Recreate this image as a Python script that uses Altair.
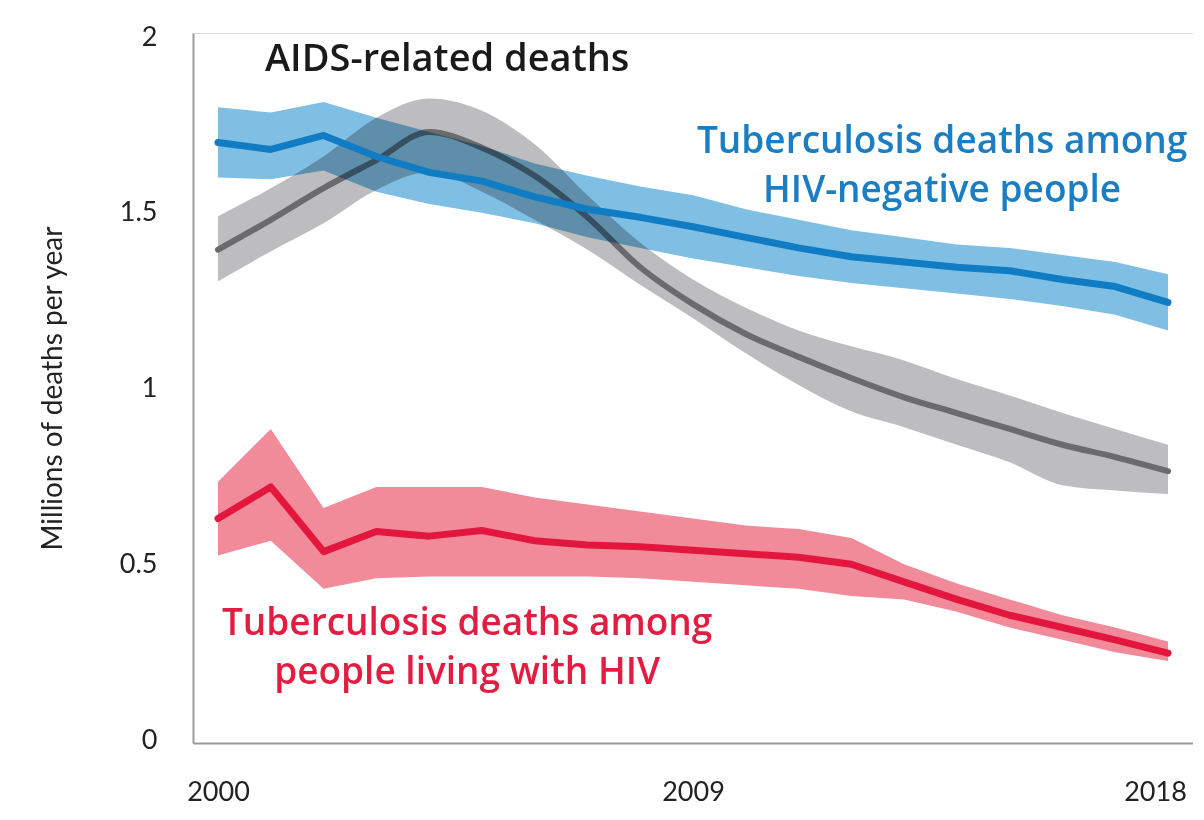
import altair as alt
import pandas as pd

years = list(range(2000, 2019))

aids_mid = [1.395, 1.48, 1.57, 1.65, 1.73, 1.685, 1.605, 1.487, 1.345, 1.24, 1.155, 1.09, 1.03, 0.975, 0.93, 0.885, 0.84, 0.805, 0.765]
aids_hi = [1.49, 1.57, 1.66, 1.77, 1.825, 1.79, 1.695, 1.55, 1.415, 1.31, 1.23, 1.165, 1.12, 1.08, 1.027, 0.98, 0.93, 0.885, 0.84]
aids_lo = [1.305, 1.39, 1.47, 1.565, 1.615, 1.56, 1.48, 1.395, 1.295, 1.20, 1.10, 1.01, 0.935, 0.89, 0.84, 0.79, 0.725, 0.71, 0.70]

tbneg_mid = [1.70, 1.68, 1.72, 1.66, 1.615, 1.59, 1.545, 1.51, 1.487, 1.46, 1.43, 1.40, 1.375, 1.36, 1.345, 1.335, 1.31, 1.29, 1.245]
tbneg_hi = [1.80, 1.785, 1.815, 1.77, 1.73, 1.69, 1.64, 1.605, 1.575, 1.55, 1.51, 1.48, 1.45, 1.43, 1.41, 1.40, 1.38, 1.36, 1.325]
tbneg_lo = [1.60, 1.595, 1.62, 1.56, 1.525, 1.50, 1.47, 1.43, 1.40, 1.37, 1.345, 1.32, 1.30, 1.285, 1.27, 1.255, 1.235, 1.21, 1.165]

tbhiv_mid = [0.63, 0.72, 0.536, 0.593, 0.58, 0.596, 0.567, 0.555, 0.55, 0.54, 0.53, 0.52, 0.50, 0.45, 0.40, 0.355, 0.32, 0.285, 0.247]
tbhiv_hi = [0.735, 0.885, 0.66, 0.72, 0.72, 0.72, 0.69, 0.67, 0.65, 0.63, 0.61, 0.60, 0.575, 0.50, 0.445, 0.40, 0.355, 0.32, 0.28]
tbhiv_lo = [0.525, 0.567, 0.43, 0.46, 0.465, 0.465, 0.465, 0.465, 0.46, 0.45, 0.44, 0.43, 0.41, 0.40, 0.365, 0.32, 0.285, 0.25, 0.225]

x_ticks = [2000, 2009, 2018]
y_ticks = [0, 0.5, 1, 1.5, 2]

ann_text = ["AIDS-related deaths",
            "Tuberculosis deaths among", "HIV-negative people",
            "Tuberculosis deaths among", "people living with HIV"]
ann_group = ["aids", "neg", "neg", "hiv", "hiv"]

df = pd.DataFrame({
    "year": years,
    "aids": aids_mid, "aids_hi": aids_hi, "aids_lo": aids_lo,
    "neg": tbneg_mid, "neg_hi": tbneg_hi, "neg_lo": tbneg_lo,
    "hiv": tbhiv_mid, "hiv_hi": tbhiv_hi, "hiv_lo": tbhiv_lo,
})

FONT = "Lato"
AFONT = "Open Sans"
XDOM = [1999.526, 2018.474]
YDOM = [-0.0085, 2.0114]

xscale = alt.Scale(domain=XDOM, nice=False, zero=False)
xenc = alt.X("year:Q", scale=xscale,
             axis=alt.Axis(values=x_ticks, format="d", title=None, ticks=False, grid=False,
                           domainColor="#9c9c9c", domainWidth=2, labelFontSize=27,
                           labelColor="#222222", labelFont=FONT, labelPadding=36,
                           labelFlush=False,
                           labelOffset={"condition": {"test": "datum.value == 2018", "value": -13},
                                        "value": 0}))
yaxis = alt.Axis(values=y_ticks, format="~g", title="Millions of deaths per year",
                 ticks=False, grid=False, domainColor="#9c9c9c", domainWidth=2,
                 labelFontSize=27, labelColor="#222222", labelFont=FONT, labelPadding=36,
                 titleFontSize=28, titleFont=FONT, titleFontWeight="normal",
                 titleColor="#222222", titlePadding=52)
yscale = alt.Scale(domain=YDOM, nice=False, zero=False)

base = alt.Chart(df)

def band(col, color, interp="linear"):
    return base.mark_area(color=color, opacity=1, blend="multiply", interpolate=interp).encode(
        x=xenc,
        y=alt.Y(f"{col}_lo:Q", scale=yscale, axis=yaxis),
        y2=alt.Y2(f"{col}_hi:Q"),
    )

def line(col, color, w, interp="linear"):
    return base.mark_line(color=color, strokeWidth=w, strokeCap="round", strokeJoin="round",
                          interpolate=interp).encode(
        x=xenc,
        y=alt.Y(f"{col}:Q", scale=yscale, axis=yaxis),
    )

ann = pd.DataFrame({
    "text": ann_text,
    "group": ann_group,
    "x": [2000.89, 2013.72, 2013.72, 2004.72, 2004.72],
    "y": [1.935, 1.70, 1.563, 0.329, 0.191],
})

def label(group, align, size, color):
    return alt.Chart(ann[ann.group == group]).mark_text(
        align=align, baseline="middle", font=AFONT, fontSize=size, fontWeight=600, color=color
    ).encode(x=alt.X("x:Q", scale=xscale), y=alt.Y("y:Q", scale=yscale), text="text:N")

chart = alt.layer(
    band("aids", "#bdbdbf", "monotone"),
    line("aids", "#6b6b6d", 6, "monotone"),
    band("neg", "#7fbfe3"),
    line("neg", "#0f7cc3", 7),
    band("hiv", "#f18b9a"),
    line("hiv", "#e3173d", 7),
    label("aids", "left", 38, "#1a1a1a"),
    label("neg", "center", 37, "#1b7dc2"),
    label("hiv", "center", 37, "#e31d42"),
).properties(
    width=1000, height=710,
    autosize=alt.AutoSizeParams(type="none"),
    padding={"left": 185, "top": 25, "right": 0, "bottom": 66},
).configure_view(stroke=None).configure(background="white")

chart.save("out.html", embed_options={"renderer": "svg", "actions": False})
